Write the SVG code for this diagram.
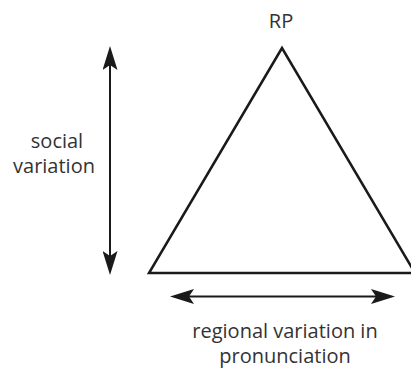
<svg xmlns="http://www.w3.org/2000/svg" width="411" height="371" viewBox="0 0 411 371">
  <style>
    .lbl { font-family: "Open Sans", "Noto Sans", "Liberation Sans", sans-serif; font-size: 20px; fill: #333333; text-anchor: middle; }
    .tri { fill: none; stroke: #1a1a1a; stroke-width: 2.5; stroke-linejoin: miter; }
    .arr { fill: none; stroke: #1a1a1a; stroke-width: 2; marker-start: url(#head); marker-end: url(#head); }
  </style>
  <defs>
    <marker id="head" markerUnits="userSpaceOnUse" viewBox="0 0 24 15" refX="5" refY="7.5" markerWidth="24" markerHeight="15" orient="auto-start-reverse">
      <path d="M0,0 L24,7.5 L0,15 L5,7.5 Z" fill="#1a1a1a"/>
    </marker>
  </defs>
  <rect width="411" height="371" fill="#ffffff"/>
  <g id="triangle">
    <polygon class="tri" points="282,48 149,273 415,273"/>
  </g>
  <g id="label-rp">
    <text class="lbl" x="281" y="28">RP</text>
  </g>
  <g id="label-social">
    <text class="lbl" x="57" y="148">social</text>
    <text class="lbl" x="54" y="173">variation</text>
  </g>
  <g id="label-regional">
    <text class="lbl" x="285" y="338">regional variation in</text>
    <text class="lbl" x="285" y="363">pronunciation</text>
  </g>
  <g id="connectors">
    <line class="arr" x1="110" y1="65" x2="110" y2="256"/>
    <line class="arr" x1="189" y1="296.5" x2="376" y2="296.5"/>
  </g>
</svg>
